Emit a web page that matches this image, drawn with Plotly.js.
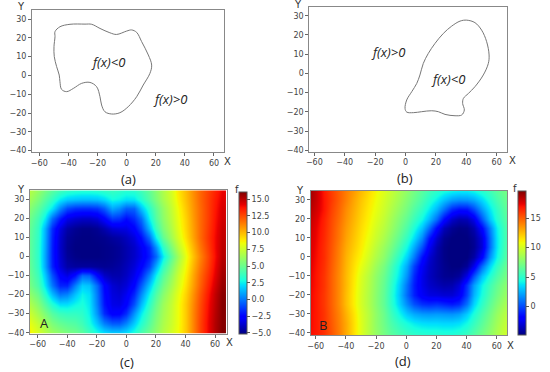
<!DOCTYPE html>
<html><head><meta charset="utf-8">
<script src="https://cdn.plot.ly/plotly-3.0.1.min.js"></script>
<style>html,body{margin:0;padding:0;background:#fff}#chart{width:550px;height:372px}</style>
</head><body><div id="chart"></div>
<script>
// ---- Data ----
const curveAX = [-49.2,-45.8,-38.9,-28.6,-24.0,-18.3,-11.5,-6.9,0,3.4,6.9,10.3,14.9,17.2,16.0,11.4,6.9,1.1,-4.6,-10.3,-14.9,-17.2,-18.3,-20.6,-25.2,-30.9,-36.6,-41.2,-44.7,-45.8,-46.3,-48.1,-49.7,-49.9,-49.2,-49.2];
const curveAY = [23.3,25.9,27.2,27.3,27.2,25.0,22.7,21.8,23.6,24.2,22.9,18.0,10.9,5.5,1.1,-5.1,-11.3,-16.6,-19.8,-20.5,-19.3,-15.7,-11.3,-6.0,-3.7,-4.2,-6.9,-8.6,-7.4,-3.3,0.2,4.7,10.0,15.3,20.6,23.3];
const curveBX = [40.3,45.7,50.1,53.4,55.0,54.5,51.2,45.7,41.4,38.1,37.6,38.7,37.0,32.6,26.0,21.6,17.2,10.6,5.2,0.8,-0.3,0.8,4.1,7.4,9.5,11.7,15.0,19.4,24.9,30.4,35.9,40.3];
const curveBY = [27.7,26.4,22.5,16.5,9.6,5.2,-0.8,-6.9,-10.4,-13.0,-15.6,-19.0,-21.6,-22.0,-21.3,-19.9,-19.4,-19.9,-20.4,-20.1,-18.2,-13.8,-9.5,-5.2,-0.8,5.2,10.4,15.6,20.8,24.6,27.2,27.7];

const heatX = [-65,-60,-55,-50,-45,-40,-35,-30,-25,-20,-15,-10,-5,0,5,10,15,20,25,30,35,40,45,50,55,60,65];
const heatY = [-40,-35,-30,-25,-20,-15,-10,-5,0,5,10,15,20,25,30,35];

const fieldA = [
 [8.7,7.8,7.0,6.3,5.8,5.4,5.1,4.6,3.8,2.8,2.1,1.7,1.7,2.1,3.0,4.1,5.1,6.0,6.9,7.7,8.5,9.7,11.2,12.7,14.1,15.2,16.1],
 [8.2,7.3,6.4,5.5,4.9,4.6,4.4,3.9,3.0,1.6,0.2,-0.6,-0.6,0.3,1.8,3.2,4.5,5.7,6.7,7.5,8.4,9.7,11.2,12.7,14.1,15.2,16.0],
 [7.5,6.5,5.5,4.5,3.8,3.6,3.6,3.4,2.6,0.6,-1.6,-2.7,-2.6,-1.6,0.6,2.4,4.0,5.4,6.5,7.4,8.4,9.7,11.2,12.6,14.0,15.1,16.0],
 [6.8,5.8,4.5,3.2,2.2,2.2,2.7,3.0,2.4,0.2,-2.1,-3.2,-3.3,-2.6,-0.8,1.4,3.4,5.0,6.3,7.3,8.4,9.7,11.1,12.5,13.9,15.0,16.0],
 [6.0,5.0,3.3,1.5,0.0,0.3,1.6,2.6,2.2,0.0,-2.3,-3.4,-3.6,-3.0,-1.7,0.4,2.6,4.4,5.8,7.0,8.2,9.5,10.9,12.3,13.7,14.9,15.9],
 [5.3,4.2,2.3,0.0,-1.8,-1.8,0.2,1.8,1.6,-0.3,-2.5,-3.6,-3.9,-3.5,-2.5,-0.6,1.6,3.6,5.2,6.5,7.8,9.2,10.6,12.0,13.4,14.6,15.7],
 [5.0,3.8,1.7,-0.8,-2.7,-3.3,-2.2,-0.3,-0.5,-2.5,-3.8,-4.3,-4.3,-3.9,-3.1,-1.8,0.3,2.6,4.5,6.0,7.5,8.9,10.4,11.8,13.1,14.3,15.5],
 [4.8,3.5,1.0,-1.8,-3.5,-4.4,-4.6,-4.6,-4.6,-4.7,-4.8,-4.7,-4.5,-4.1,-3.5,-2.6,-1.2,1.2,3.6,5.4,7.0,8.6,10.1,11.5,12.8,14.1,15.3],
 [4.7,3.4,0.9,-1.9,-3.7,-4.7,-5.0,-5.1,-5.1,-5.1,-5.0,-4.9,-4.7,-4.3,-3.8,-3.1,-2.0,-0.3,2.4,4.6,6.4,8.3,9.8,11.2,12.6,13.9,15.1],
 [4.7,3.4,1.0,-1.9,-3.8,-4.8,-5.1,-5.1,-5.1,-5.1,-5.0,-4.9,-4.7,-4.3,-3.8,-3.0,-1.8,0.6,3.4,5.4,7.1,8.7,10.1,11.5,12.8,14.0,15.0],
 [4.7,3.5,1.1,-1.8,-3.7,-4.7,-5.0,-5.1,-5.1,-5.0,-4.9,-4.6,-4.4,-4.0,-3.4,-2.3,-0.3,2.6,4.8,6.4,7.8,9.2,10.5,11.8,13.0,14.0,14.9],
 [4.8,3.6,1.2,-1.6,-3.4,-4.4,-4.8,-5.0,-5.0,-4.8,-4.3,-3.6,-3.4,-3.3,-2.6,-1.2,1.3,3.8,5.5,6.8,8.1,9.4,10.6,11.8,12.9,13.9,14.8],
 [5.1,4.0,2.4,-0.2,-2.0,-3.2,-3.6,-3.8,-3.8,-3.5,-2.6,-1.3,-1.5,-2.3,-1.6,-0.2,2.5,4.5,5.9,7.1,8.3,9.5,10.7,11.8,12.8,13.8,14.6],
 [5.7,4.7,3.6,2.3,0.3,-1.0,-1.5,-1.6,-1.6,-1.4,-0.6,1.0,0.5,-0.5,-0.4,1.5,3.3,4.8,6.1,7.3,8.5,9.7,10.8,11.8,12.8,13.7,14.5],
 [6.4,5.5,4.5,3.6,2.4,1.8,1.6,1.5,1.5,1.6,2.0,2.8,2.6,2.2,2.3,3.2,4.4,5.5,6.6,7.6,8.8,9.9,10.9,11.9,12.8,13.6,14.3],
 [7.0,6.2,5.4,4.7,4.1,3.7,3.5,3.4,3.4,3.5,3.7,3.8,3.6,3.4,3.5,4.0,4.8,5.8,6.8,7.8,9.0,10.0,11.0,11.9,12.7,13.4,14.1]
];
const fieldB = [
 [17.2,16.8,16.2,15.3,14.2,13.0,11.6,10.3,9.1,8.1,7.2,6.4,5.8,5.3,5.0,4.8,4.7,4.7,4.6,4.6,4.8,5.3,6.1,7.0,7.9,8.8,9.7],
 [17.3,16.8,16.1,15.2,14.1,13.0,11.6,10.3,9.1,8.0,7.0,6.0,5.1,4.4,3.9,3.6,3.5,3.5,3.4,3.4,3.6,4.3,5.3,6.4,7.5,8.5,9.4],
 [17.3,16.8,16.1,15.1,14.0,12.8,11.5,10.2,9.1,8.0,6.9,5.6,4.3,3.1,2.4,2.0,1.9,2.0,1.9,1.8,2.1,3.2,4.6,5.9,7.1,8.2,9.1],
 [17.4,16.8,16.0,15.0,13.8,12.5,11.2,10.0,8.9,7.8,6.6,5.1,3.4,1.6,0.2,-0.6,-0.8,-0.6,-0.9,-1.2,-0.8,1.0,3.4,5.1,6.5,7.6,8.6],
 [17.4,16.8,16.0,15.0,13.8,12.5,11.2,10.0,8.9,7.8,6.6,5.0,3.1,0.8,-1.0,-2.2,-2.7,-2.8,-3.0,-3.0,-2.4,-0.2,2.6,4.5,6.0,7.1,8.1],
 [17.5,16.9,16.1,15.0,13.8,12.6,11.3,10.1,9.0,7.9,6.7,5.2,3.3,1.0,-1.1,-2.5,-3.2,-3.6,-3.9,-3.8,-3.0,-0.6,2.1,4.1,5.6,6.7,7.7],
 [17.6,16.9,16.1,15.0,13.8,12.6,11.4,10.2,9.1,8.0,6.9,5.5,3.8,1.7,-0.8,-2.5,-3.4,-4.0,-4.4,-4.5,-4.2,-2.6,0.2,2.9,4.7,6.0,7.1],
 [17.7,17.0,16.2,15.1,13.9,12.7,11.6,10.6,9.5,8.4,7.3,5.9,4.2,2.3,-0.2,-2.2,-3.3,-4.0,-4.5,-4.8,-4.8,-4.3,-2.4,0.8,3.4,5.2,6.6],
 [17.8,17.1,16.3,15.2,14.0,12.8,11.8,11.0,9.9,8.9,7.9,6.6,5.0,3.3,1.2,-1.4,-3.0,-4.0,-4.6,-4.9,-5.0,-4.8,-4.0,-1.9,1.8,4.2,6.0],
 [17.9,17.2,16.3,15.3,14.1,13.0,12.1,11.3,10.3,9.3,8.3,7.3,5.9,4.3,2.4,0.2,-2.2,-3.8,-4.6,-4.9,-5.0,-4.9,-4.4,-2.9,0.8,3.8,5.8],
 [18.0,17.3,16.4,15.4,14.3,13.2,12.3,11.5,10.6,9.7,8.8,7.8,6.6,5.2,3.6,1.6,-1.2,-3.2,-4.4,-4.8,-4.9,-4.8,-4.3,-2.8,0.8,3.8,5.7],
 [18.2,17.4,16.5,15.5,14.4,13.4,12.5,11.7,10.9,10.0,9.2,8.3,7.2,6.0,4.6,3.0,0.9,-1.8,-3.6,-4.4,-4.7,-4.6,-3.8,-1.8,1.3,4.0,5.8],
 [18.4,17.6,16.6,15.6,14.6,13.6,12.7,11.9,11.1,10.3,9.5,8.6,7.6,6.6,5.5,4.3,2.8,0.8,-1.6,-3.2,-3.8,-3.6,-2.5,0.3,3.0,4.8,6.1],
 [18.7,17.9,16.9,15.8,14.8,13.8,12.9,12.1,11.3,10.6,9.8,9.0,8.1,7.2,6.2,5.2,4.0,2.6,1.0,-0.8,-1.4,-1.3,0.0,2.0,3.8,5.2,6.4],
 [19.0,18.1,16.9,16.0,15.0,14.1,13.1,12.3,11.5,10.8,10.0,9.3,8.5,7.6,6.8,5.9,4.9,3.9,2.9,2.0,1.7,1.8,2.3,3.4,4.7,5.8,6.7],
 [19.2,18.2,16.8,15.9,15.0,14.2,13.4,12.6,11.8,11.0,10.3,9.6,8.8,8.0,7.2,6.4,5.7,5.1,4.6,4.3,4.1,4.1,4.4,5.0,5.7,6.4,7.1]
];

const xTicks = [-60,-40,-20,0,20,40,60];
const yTicks = [-40,-30,-20,-10,0,10,20,30];
const cbTicksA = [-5,-2.5,0,2.5,5,7.5,10,12.5,15];
const cbTicksB = [0,5,10,15];

// ---- Styling ----
const jet = [[0,'rgb(0,0,128)'],[0.11,'rgb(0,0,255)'],[0.125,'rgb(0,0,255)'],[0.34,'rgb(0,219,255)'],[0.35,'rgb(0,230,247)'],[0.375,'rgb(21,255,226)'],[0.64,'rgb(239,255,8)'],[0.65,'rgb(247,245,0)'],[0.66,'rgb(255,236,0)'],[0.89,'rgb(255,19,0)'],[0.91,'rgb(232,0,0)'],[1,'rgb(128,0,0)']];
const tickFont = {family:'DejaVu Sans', size:8, color:'#444'};
function ax(domain, range, vals, anchor){
  return {domain:domain, range:range, tickvals:vals, ticks:'outside', ticklen:3, tickwidth:1, tickcolor:'#666',
    showline:true, mirror:true, linecolor:'#888', linewidth:1, showgrid:false, zeroline:false,
    tickfont:tickFont, anchor:anchor, fixedrange:true};
}
function cb(x, y, len, vals, fmt){
  return {x:x, xanchor:'left', y:y, yanchor:'middle', len:len, lenmode:'fraction', thickness:7.5, thicknessmode:'pixels',
    outlinewidth:1, outlinecolor:'#555', ticks:'outside', ticklen:3, tickcolor:'#555', tickvals:vals, tickformat:fmt,
    tickfont:tickFont, xpad:0, ypad:0};
}

const lineStyle = {color:'#777', width:1, shape:'spline', smoothing:1};
const data = [
  {type:'scatter', mode:'lines', x:curveAX, y:curveAY, line:lineStyle, xaxis:'x', yaxis:'y', hoverinfo:'skip'},
  {type:'scatter', mode:'lines', x:curveBX, y:curveBY, line:lineStyle, xaxis:'x2', yaxis:'y2', hoverinfo:'skip'},
  {type:'heatmap', x:heatX, y:heatY, z:fieldA, colorscale:jet, zmin:-5.15, zmax:16.1, zsmooth:'best',
   xaxis:'x3', yaxis:'y3', colorbar:cb(0.434, 0.2934, 0.381, cbTicksA, '.1f')},
  {type:'heatmap', x:heatX, y:heatY, z:fieldB, colorscale:jet, zmin:-4.8, zmax:19.6, zsmooth:'best',
   xaxis:'x4', yaxis:'y4', colorbar:cb(0.9424, 0.293, 0.387, cbTicksB, 'd')}
];

const txt = {family:'Open Sans, Liberation Sans, sans-serif', size:13, color:'#222'};
const lab = {family:'DejaVu Sans', size:10, color:'#333'};
function pa(x, y, text, font){ return {xref:'paper', yref:'paper', x:x, y:y, text:text, showarrow:false, xanchor:'center', yanchor:'middle', font:font}; }
function da(xr, yr, x, y, text, font){ return {xref:xr, yref:yr, x:x, y:y, text:text, showarrow:false, xanchor:'center', yanchor:'middle', font:font}; }
const it = {family:'Open Sans, Liberation Sans, sans-serif', size:13, color:'#222'};

const layout = {
  width:550, height:372, margin:{l:0,r:0,t:0,b:0}, showlegend:false,
  paper_bgcolor:'#fff', plot_bgcolor:'#fff',
  xaxis: ax([0.0582,0.4073], [-65,66.9], xTicks, 'y'),
  yaxis: ax([0.5914,0.9731], [-40.7,34.8], yTicks, 'x'),
  xaxis2: ax([0.5624,0.9224], [-63.3,67], xTicks, 'y2'),
  yaxis2: ax([0.5922,0.982], [-40.7,34.7], yTicks, 'x2'),
  xaxis3: ax([0.0545,0.4122], [-65.2,67.9], xTicks, 'y3'),
  yaxis3: ax([0.1030,0.4884], [-40.5,34.7], yTicks, 'x3'),
  xaxis4: ax([0.5649,0.9224], [-63.3,67], xTicks, 'y4'),
  yaxis4: ax([0.0995,0.4866], [-41.2,34.7], yTicks, 'x4'),
  annotations: [
    da('x','y',-12.6,7.3,'<i>f(x)<0</i>',it),
    da('x','y',29.8,-12.5,'<i>f(x)>0</i>',it),
    da('x2','y2',-11.3,11.3,'<i>f(x)>0</i>',it),
    da('x2','y2',27.8,-3.1,'<i>f(x)<0</i>',it),
    da('x3','y3',-55.5,-35.1,'A',txt),
    da('x4','y4',-55,-36.1,'B',txt),
    pa(21/550, 1-7/372, 'Y', lab),
    pa(298/550, 1-5/372, 'Y', lab),
    pa(21/550, 1-189/372, 'Y', lab),
    pa(300/550, 1-190/372, 'Y', lab),
    pa(227/550, 1-161/372, 'X', lab),
    pa(512/550, 1-160/372, 'X', lab),
    pa(230/550, 1-342/372, 'X', lab),
    pa(510/550, 1-345/372, 'X', lab),
    pa(237/550, 1-189/372, 'f', lab),
    pa(515/550, 1-188/372, 'f', lab),
    pa(128/550, 1-179/372, '(a)', txt),
    pa(405/550, 1-178/372, '(b)', txt),
    pa(127/550, 1-362/372, '(c)', txt),
    pa(403/550, 1-361/372, '(d)', txt)
  ]
};
Plotly.newPlot('chart', data, layout, {staticPlot:true, displayModeBar:false});
</script></body></html>
